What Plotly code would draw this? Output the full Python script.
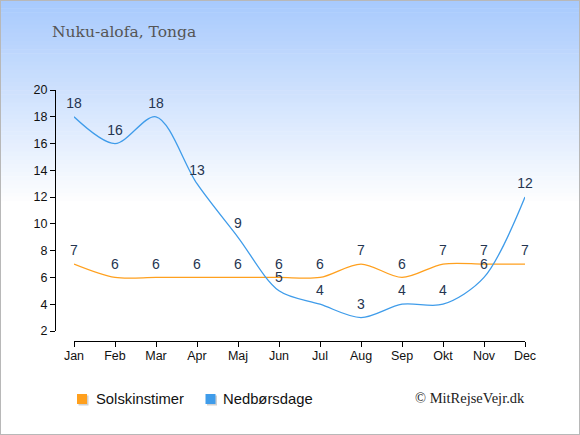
import plotly.graph_objects as go

W, H = 580, 435

months = ["Jan", "Feb", "Mar", "Apr", "Maj", "Jun", "Jul", "Aug", "Sep", "Okt", "Nov", "Dec"]
sun_hours = [7, 6, 6, 6, 6, 6, 6, 7, 6, 7, 7, 7]
rain_days = [18, 16, 18, 13, 9, 5, 4, 3, 4, 4, 6, 12]
y_ticks = [2, 4, 6, 8, 10, 12, 14, 16, 18, 20]
series_names = ["Solskinstimer", "Nedbørsdage"]

ORANGE = "#ffa01e"
BLUE = "#3f9cea"
LABEL = "#253550"


def px_x(p):
    return p / W


def px_y(p):
    return 1 - p / H


fig = go.Figure()

for name, vals, col in [(series_names[0], sun_hours, ORANGE), (series_names[1], rain_days, BLUE)]:
    fig.add_trace(go.Scatter(
        x=list(range(len(months))), y=vals, mode="lines+markers+text", name=name,
        text=[str(v) for v in vals], textposition="top center",
        textfont=dict(family="Liberation Sans, Arial, sans-serif", size=14, color=LABEL),
        marker=dict(size=7, color="rgba(0,0,0,0)"),
        line=dict(color=col, width=1.3, shape="spline", smoothing=0.9),
        cliponaxis=False, showlegend=False, hoverinfo="skip",
    ))

# background gradient (light blue at top fading to white)
shapes = []
n = 50
top_px, bottom_px = 0, 205
c0 = (168, 202, 253)
for i in range(n):
    t = i / (n - 1)
    r = int(c0[0] + (255 - c0[0]) * t)
    g = int(c0[1] + (255 - c0[1]) * t)
    b = int(c0[2] + (255 - c0[2]) * t)
    y0 = top_px + (bottom_px - top_px) * i / n
    y1 = top_px + (bottom_px - top_px) * (i + 1) / n + 0.5
    shapes.append(dict(type="rect", xref="paper", yref="paper", layer="below",
                       x0=0, x1=1, y0=px_y(y1), y1=px_y(y0),
                       fillcolor=f"rgb({r},{g},{b})", line=dict(width=0)))
shapes.append(dict(type="rect", xref="paper", yref="paper", x0=0, x1=1, y0=0, y1=1,
                   line=dict(color="#b8b8b8", width=2), fillcolor="rgba(0,0,0,0)"))

# legend: square swatches with a soft shadow, then the series name
annotations = []
for left, text_x, name, col in [(77, 94, series_names[0], ORANGE), (205.5, 221, series_names[1], BLUE)]:
    shapes.append(dict(type="rect", xref="paper", yref="paper",
                       x0=px_x(left + 1.5), x1=px_x(left + 11.5), y0=px_y(405.5), y1=px_y(395.5),
                       fillcolor="rgba(0,0,0,0.18)", line=dict(width=0)))
    shapes.append(dict(type="rect", xref="paper", yref="paper",
                       x0=px_x(left), x1=px_x(left + 10), y0=px_y(404), y1=px_y(394),
                       fillcolor=col, line=dict(width=0)))
    annotations.append(dict(text=name, xref="paper", yref="paper",
                            x=px_x(text_x), y=px_y(398.5), xanchor="left", yanchor="middle",
                            showarrow=False,
                            font=dict(family="Liberation Sans, Arial, sans-serif", size=14.8, color="#111111")))

annotations += [
    dict(text="Nuku-alofa, Tonga", xref="paper", yref="paper",
         x=px_x(50), y=px_y(32), xanchor="left", yanchor="middle", showarrow=False,
         font=dict(family="DejaVu Serif, Liberation Serif, serif", size=15.5, color="#555555")),
    dict(text="© MitRejseVejr.dk", xref="paper", yref="paper",
         x=px_x(527), y=px_y(397.5), xanchor="right", yanchor="middle", showarrow=False,
         font=dict(family="Liberation Serif, DejaVu Serif, serif", size=14.5, color="#222222")),
]

fig.update_layout(
    width=W, height=H,
    margin=dict(l=0, r=0, t=0, b=0, pad=0, autoexpand=False),
    paper_bgcolor="white", plot_bgcolor="rgba(0,0,0,0)",
    shapes=shapes, annotations=annotations, showlegend=False,
    font=dict(family="Liberation Sans, Arial, sans-serif", color="#111111"),
    xaxis=dict(
        domain=[px_x(74), px_x(525)], range=[0, 11],
        anchor="free", position=px_y(341), automargin=False,
        tickmode="array", tickvals=list(range(len(months))), ticktext=months,
        showline=True, linecolor="black", linewidth=1,
        ticks="outside", ticklen=5, tickcolor="black", ticklabelstandoff=-2,
        showgrid=False, zeroline=False, tickfont=dict(size=12.5),
    ),
    yaxis=dict(
        domain=[px_y(331), px_y(90)], range=[2, 20],
        anchor="free", position=px_x(55), automargin=False,
        tickmode="array", tickvals=y_ticks,
        showline=True, linecolor="black", linewidth=1,
        ticks="outside", ticklen=5, tickcolor="black",
        showgrid=False, zeroline=False, tickfont=dict(size=12.5),
    ),
)

fig.write_html("out.html", config={"displayModeBar": False},
               post_script="document.body.style.margin='0';document.body.style.overflow='hidden';")
